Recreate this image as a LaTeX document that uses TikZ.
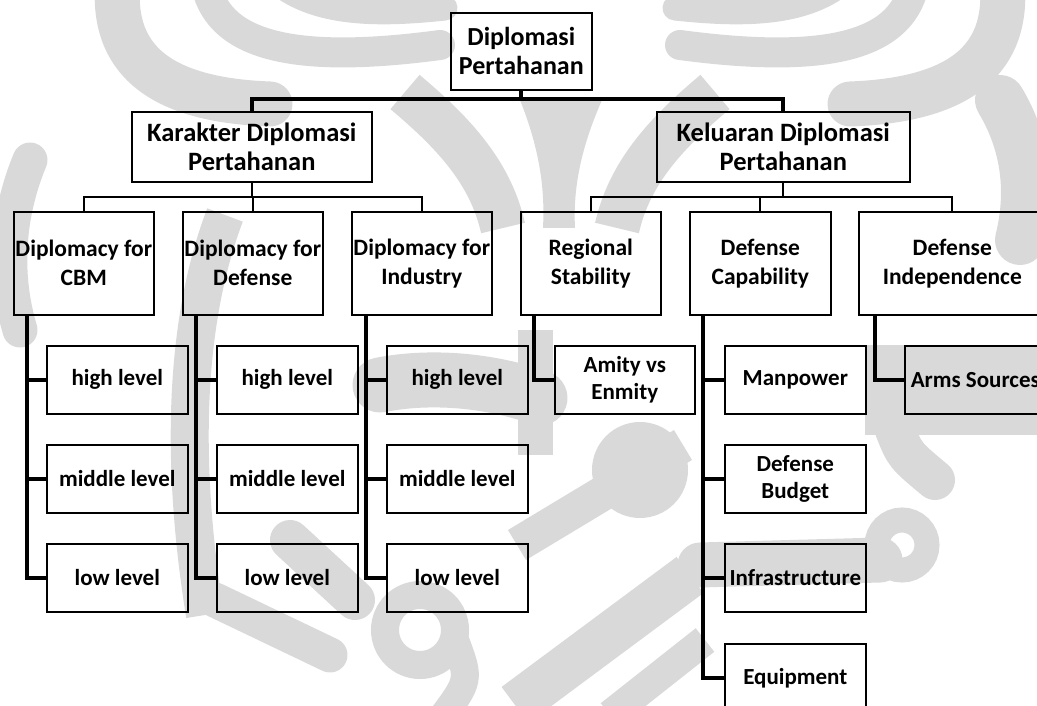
\documentclass[tikz,border=0pt]{standalone}
\usepackage{fontspec}
\setmainfont{Carlito}
\usetikzlibrary{calc}
\definecolor{wmgray}{gray}{0.85}
\tikzset{
  box/.style={draw=black, line width=1.6pt, inner sep=0pt, anchor=north west, align=center, text=black},
  rootfont/.style={font=\bfseries\fontsize{26}{29}\selectfont},
  headfont/.style={font=\bfseries\fontsize{26.5}{29}\selectfont},
  branchfont/.style={font=\bfseries\fontsize{23.5}{29}\selectfont},
  leaffont/.style={font=\bfseries\fontsize{23}{27}\selectfont},
  branch/.style={box, branchfont, minimum width=140pt, minimum height=103pt},
  leaf/.style={box, leaffont, minimum width=141pt, minimum height=68pt},
  heavy/.style={draw=black, line width=4pt},
  light/.style={draw=black, line width=2pt},
  wm/.style={draw=wmgray, line cap=round},
  wmb/.style={draw=wmgray, line cap=butt},
}
\begin{document}
\begin{tikzpicture}[x=1pt, y=-1pt]
\path[use as bounding box] (0,0) rectangle (1037,706);
\begin{scope}
\clip (0,0) rectangle (1037,706);

% background emblem in light grey: upper part, symmetric about x = 560
\foreach \m in {0,1} {
  \begin{scope}[xshift=\m*1120pt, xscale=1-2*\m]
    \draw[wm, line width=45pt] (118,-20) .. controls (110,60) and (160,100) .. (270,104);
    \draw[wm, line width=30pt] (205,-20) .. controls (215,45) and (290,65) .. (440,45);
    \draw[wm, line width=25pt] (280,-15) .. controls (320,15) and (380,15) .. (445,8);
    \draw[wmb, line width=45pt] (405,92) .. controls (450,130) and (490,170) .. (503,228);
  \end{scope}
}
\fill[wmgray] (520,100) .. controls (540,150) and (545,190) .. (543,228)
  -- (575,228) .. controls (573,190) and (580,150) .. (602,100) -- cycle;

% background emblem: sides and lower part
\draw[wm, line width=35pt] (30,160) .. controls (5,220) and (5,280) .. (20,330);
\draw[wm, line width=50pt] (1000,100) .. controls (1030,150) and (1030,200) .. (1020,240);
\draw[wmb, line width=38pt] (225,215) .. controls (185,320) and (180,460) .. (205,615);
\draw[wm, line width=55pt] (380,385) .. controls (430,375) and (490,380) .. (540,398);
\draw[wmb, line width=35pt] (535,330) -- (535,455);
\fill[wmgray] (640,470) circle[radius=48];
\draw[wmb, line width=35pt] (517,545) -- (683,445);
\draw[wmb, line width=45pt] (515,705) -- (690,575);
\draw[wmb, line width=30pt] (610,715) -- (705,640);
\draw[wm, line width=40pt] (290,540) -- (355,600);
\draw[wm, line width=35pt] (215,600) -- (330,655);
\draw[wm, line width=28pt] (420,630) circle[radius=35];
\draw[wm, line width=28pt] (455,640) .. controls (470,680) .. (440,720);
\draw[wmb, line width=90pt] (865,390) -- (1040,390);
\draw[wm, line width=40pt] (895,430) .. controls (905,455) .. (935,480);
\draw[wm, line width=45pt] (700,565) -- (880,560);
\draw[wm, line width=25pt] (902,545) circle[radius=25];

% top of the hierarchy
\node[box, rootfont, minimum width=141pt, minimum height=77pt] (root) at (450,12) {Diplomasi\\Pertahanan};
\node[box, headfont, minimum width=240pt, minimum height=70pt] (kar) at (131,111) {Karakter Diplomasi\\Pertahanan};
\node[box, headfont, minimum width=253pt, minimum height=70pt] (kel) at (656,111) {Keluaran Diplomasi\\Pertahanan};

% second level
\node[branch] (cbm) at (13,211) {Diplomacy for\\CBM};
\node[branch] (dfn) at (182,211) {Diplomacy for\\Defense};
\node[branch] (ind) at (351,211) {Diplomacy for\\Industry};
\node[branch] (reg) at (520,211) {Regional\\Stability};
\node[branch, minimum width=141pt] (cap) at (689,211) {Defense\\Capability};
\node[branch, minimum width=187pt] (dind) at (858,211) {Defense\\Independence};

% third level
\node[leaf] (cbmh) at (46,345) {high level};
\node[leaf] (cbmm) at (46,444) {middle level};
\node[leaf] (cbml) at (46,543) {low level};
\node[leaf] (dfnh) at (216,345) {high level};
\node[leaf] (dfnm) at (216,444) {middle level};
\node[leaf] (dfnl) at (216,543) {low level};
\node[leaf] (indh) at (386,345) {high level};
\node[leaf] (indm) at (386,444) {middle level};
\node[leaf] (indl) at (386,543) {low level};
\node[leaf, minimum width=140pt] (amity) at (554,345) {Amity vs\\Enmity};
\node[leaf] (man) at (724,345) {Manpower};
\node[leaf] (bud) at (724,444) {Defense\\Budget};
\node[leaf] (infra) at (724,543) {Infrastructure};
\node[leaf] (equip) at (724,643) {Equipment};
\node[leaf] (arms) at (904,345) {Arms Sources};

% connectors: root to the two headings
\coordinate (j0) at ([yshift=-8pt]root.south);
\draw[heavy] (root.south) -- (j0);
\draw[heavy] (kar.north) |- (j0) -| (kel.north);

% headings to the second level
\coordinate (j1) at ([yshift=-14pt]kar.south);
\coordinate (j2) at ([yshift=-14pt]kel.south);
\draw[light] (kar.south) -- (j1);
\draw[light] (cbm.north) |- (j1) -| (ind.north);
\draw[light] (j1) -| (dfn.north);
\draw[light] (kel.south) -- (j2);
\draw[light] (reg.north) |- (j2) -| (dind.north);
\draw[light] (j2) -| (cap.north);

% second level to the third level
\draw[heavy] ([xshift=14pt]cbm.south west) |- (cbml.west);
\draw[heavy] ([xshift=14pt]cbm.south west |- cbmh.west) -- (cbmh.west);
\draw[heavy] ([xshift=14pt]cbm.south west |- cbmm.west) -- (cbmm.west);
\draw[heavy] ([xshift=14pt]dfn.south west) |- (dfnl.west);
\draw[heavy] ([xshift=14pt]dfn.south west |- dfnh.west) -- (dfnh.west);
\draw[heavy] ([xshift=14pt]dfn.south west |- dfnm.west) -- (dfnm.west);
\draw[heavy] ([xshift=15pt]ind.south west) |- (indl.west);
\draw[heavy] ([xshift=15pt]ind.south west |- indh.west) -- (indh.west);
\draw[heavy] ([xshift=15pt]ind.south west |- indm.west) -- (indm.west);
\draw[heavy] ([xshift=14pt]reg.south west) |- (amity.west);
\draw[heavy] ([xshift=14pt]cap.south west) |- (equip.west);
\draw[heavy] ([xshift=14pt]cap.south west |- man.west) -- (man.west);
\draw[heavy] ([xshift=14pt]cap.south west |- bud.west) -- (bud.west);
\draw[heavy] ([xshift=14pt]cap.south west |- infra.west) -- (infra.west);
\draw[heavy] ([xshift=17pt]dind.south west) |- (arms.west);
\end{scope}
\end{tikzpicture}
\end{document}
